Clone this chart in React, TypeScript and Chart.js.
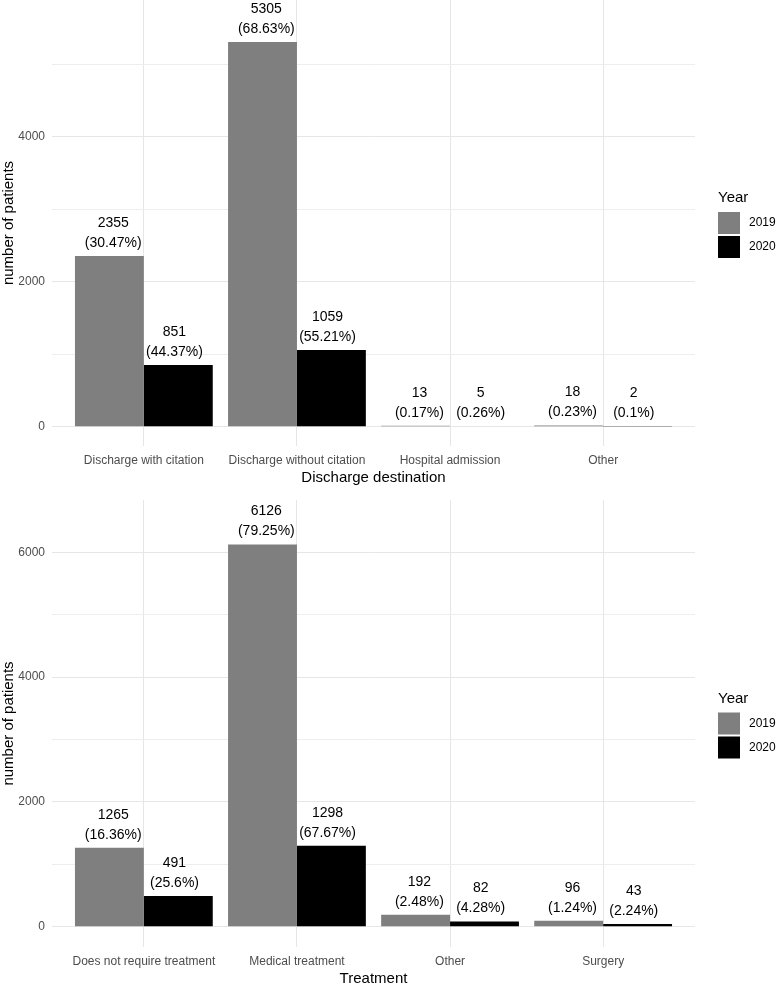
import React, { useEffect, useRef } from "react";
import { Chart, registerables } from "chart.js";

Chart.register(...registerables);

const FONT = "'Liberation Sans', Arial, Helvetica, sans-serif";
Chart.defaults.font.family = FONT;

const years = ["2019", "2020"];
const yearColors = ["#7F7F7F", "#000000"];

const destCategories = ["Discharge with citation", "Discharge without citation", "Hospital admission", "Other"];
const dest2019 = [2355, 5305, 13, 18];
const dest2020 = [851, 1059, 5, 2];
const destPct2019 = ["30.47%", "68.63%", "0.17%", "0.23%"];
const destPct2020 = ["44.37%", "55.21%", "0.26%", "0.1%"];
const destTicks = [0, 1000, 2000, 3000, 4000, 5000];

const treatCategories = ["Does not require treatment", "Medical treatment", "Other", "Surgery"];
const treat2019 = [1265, 6126, 192, 96];
const treat2020 = [491, 1298, 82, 43];
const treatPct2019 = ["16.36%", "79.25%", "2.48%", "1.24%"];
const treatPct2020 = ["25.6%", "67.67%", "4.28%", "2.24%"];
const treatTicks = [0, 1000, 2000, 3000, 4000, 5000, 6000];

type PanelCfg = {
  categories: string[];
  values: number[][];
  pcts: string[][];
  ticks: number[];
  yMin: number;
  yMax: number;
  xTitle: string;
  top: number;
  height: number;
  xScaleHeight: number;
};

const panels: PanelCfg[] = [
  {
    categories: destCategories,
    values: [dest2019, dest2020],
    pcts: [destPct2019, destPct2020],
    ticks: destTicks,
    yMin: -266,
    yMax: 5886,
    xTitle: "Discharge destination",
    top: -30,
    height: 530,
    xScaleHeight: 54,
  },
  {
    categories: treatCategories,
    values: [treat2019, treat2020],
    pcts: [treatPct2019, treatPct2020],
    ticks: treatTicks,
    yMin: -325,
    yMax: 6838,
    xTitle: "Treatment",
    top: 470,
    height: 514,
    xScaleHeight: 37,
  },
];

function Panel({ cfg }: { cfg: PanelCfg }) {
  const ref = useRef<HTMLCanvasElement>(null);
  useEffect(() => {
    const canvas = ref.current!;
    const labelPlugin = {
      id: "labels",
      afterDatasetsDraw(chart: any) {
        const { ctx, scales, chartArea } = chart;
        const xs = scales.x;
        const ys = scales.y;
        ctx.save();
        ctx.fillStyle = "#000";
        ctx.font = `14px ${FONT}`;
        ctx.textAlign = "center";
        ctx.textBaseline = "middle";
        cfg.values.forEach((vals, d) => {
          vals.forEach((v, i) => {
            const x = xs.getPixelForValue(i + 1 + (d === 0 ? -0.2 : 0.2));
            const y = ys.getPixelForValue(v);
            ctx.fillText(String(v), x, y - 33);
            ctx.fillText(`(${cfg.pcts[d][i]})`, x, y - 13);
          });
        });
        ctx.restore();

        // axis titles
        ctx.save();
        ctx.fillStyle = "#000";
        ctx.font = `15px ${FONT}`;
        ctx.textAlign = "center";
        ctx.textBaseline = "middle";
        const cx = (chartArea.left + chartArea.right) / 2;
        const cy = (chartArea.top + chartArea.bottom) / 2;
        ctx.fillText(cfg.xTitle, cx, chartArea.bottom + 31.5);
        ctx.translate(8.5, cy);
        ctx.rotate(-Math.PI / 2);
        ctx.fillText("number of patients", 0, 0);
        ctx.restore();

        // legend
        ctx.save();
        const lx = 718;
        ctx.fillStyle = "#000";
        ctx.font = `15px ${FONT}`;
        ctx.textAlign = "left";
        ctx.textBaseline = "middle";
        ctx.fillText("Year", lx, cy - 25);
        years.forEach((yr, k) => {
          const by = cy - 11 + k * 24;
          ctx.fillStyle = yearColors[k];
          ctx.fillRect(lx, by, 22, 22);
          ctx.fillStyle = "#000";
          ctx.font = `12px ${FONT}`;
          ctx.fillText(yr, 749, by + 11);
        });
        ctx.restore();
      },
    };

    const chart = new Chart(canvas, {
      type: "bar",
      data: {
        datasets: years.map((yr, d) => ({
          label: yr,
          data: cfg.categories.map((_, i) => ({ x: i + 1, y: cfg.values[d][i] })),
          backgroundColor: yearColors[d],
          borderWidth: 0,
          categoryPercentage: 0.9,
          barPercentage: 1.0,
        })),
      },
      options: {
        responsive: false,
        animation: false,
        devicePixelRatio: 1,
        layout: { padding: { top: 30, right: 82, bottom: 0, left: 0 } },
        plugins: {
          legend: { display: false },
          tooltip: { enabled: false },
          title: { display: false },
        },
        scales: {
          x: {
            type: "linear",
            min: 0.4,
            max: 4.6,
            offset: false,
            afterBuildTicks: (s: any) => {
              s.ticks = cfg.categories.map((_, i) => ({ value: i + 1 }));
            },
            afterFit: (s: any) => {
              s.height = cfg.xScaleHeight;
            },
            ticks: {
              callback: (v: any) => cfg.categories[Math.round(v) - 1] ?? "",
              padding: 7,
              color: "#4D4D4D",
              font: { size: 12 },
              maxRotation: 0,
              minRotation: 0,
              autoSkip: false,
            },
            grid: { color: "#E6E6E6", lineWidth: 1, drawTicks: false, offset: false },
            border: { display: false },
          },
          y: {
            type: "linear",
            min: cfg.yMin,
            max: cfg.yMax,
            afterBuildTicks: (s: any) => {
              s.ticks = cfg.ticks.map((v) => ({ value: v }));
            },
            afterFit: (s: any) => {
              s.width = 52;
            },
            ticks: {
              callback: (v: any) => (v % 2000 === 0 ? String(v) : ""),
              padding: 7,
              color: "#4D4D4D",
              font: { size: 12 },
            },
            grid: {
              color: (c: any) => (c.tick && c.tick.value % 2000 === 0 ? "#E6E6E6" : "#EEEEEE"),
              lineWidth: 1,
              drawTicks: false,
            },
            border: { display: false },
          },
        },
      } as any,
      plugins: [labelPlugin],
    });
    return () => chart.destroy();
  }, [cfg]);
  return (
    <canvas
      ref={ref}
      width={777}
      height={cfg.height}
      style={{ position: "absolute", left: 0, top: cfg.top, width: 777, height: cfg.height }}
    />
  );
}

export default function App() {
  return (
    <div
      style={{
        position: "absolute",
        left: 0,
        top: 0,
        width: 777,
        height: 984,
        background: "#fff",
        overflow: "hidden",
      }}
    >
      {panels.map((p, i) => (
        <Panel key={i} cfg={p} />
      ))}
    </div>
  );
}
